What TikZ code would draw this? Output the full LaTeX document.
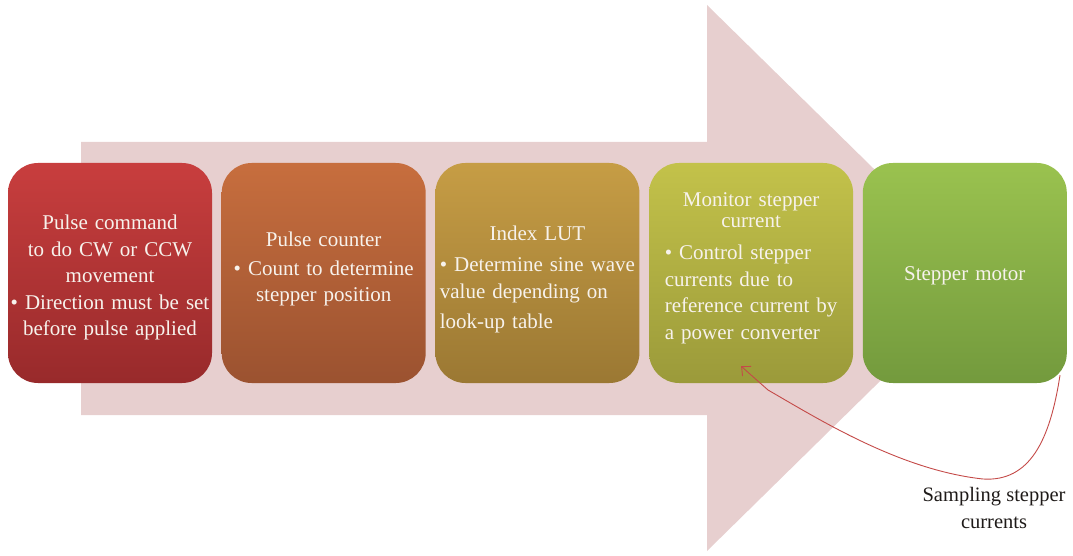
\documentclass[tikz,border=0pt]{standalone}
\usepackage{fontspec}
\setmainfont{Liberation Serif}
\usepackage{xcolor}
\usetikzlibrary{arrows.meta,positioning,calc}
\definecolor{Band}{HTML}{E7CFCF}
\definecolor{Chalk}{HTML}{F7F2EC}
\definecolor{Ink}{HTML}{1E1A18}
\definecolor{Loop}{HTML}{C44A48}
\definecolor{RedTop}{HTML}{C83E3E}
\definecolor{RedBot}{HTML}{982A2B}
\definecolor{RustTop}{HTML}{C76E3E}
\definecolor{RustBot}{HTML}{9B5230}
\definecolor{OchreTop}{HTML}{C69D45}
\definecolor{OchreBot}{HTML}{9B7833}
\definecolor{OliveTop}{HTML}{C3C24A}
\definecolor{OliveBot}{HTML}{9B9A3A}
\definecolor{LeafTop}{HTML}{9AC24F}
\definecolor{LeafBot}{HTML}{739A3D}
% struts to nudge a node's text down (sink) or up (lift)
\newcommand{\sink}[1]{\rule{0pt}{#1}}
\newcommand{\lift}[1]{\rule[-#1]{0pt}{#1}}
\tikzset{
  stage/.style={rounded corners=30pt,minimum width=204pt,minimum height=220pt,align=center,text width=202pt,inner sep=1pt,font=\fontsize{21}{26.5}\selectfont,text=Chalk},
  note/.style={align=center,font=\fontsize{20.5}{27}\selectfont,text=Ink},
  feedback/.style={-{Straight Barb[length=7pt,width=13pt]},draw=Loop,line width=0.9pt}
}
\begin{document}
\begin{tikzpicture}[x=1pt,y=-1pt,node distance=9.3pt]
  \useasboundingbox (0,0) rectangle (1073,556);
  % big background arrow
  \fill[Band] (81,142) -- (707,142) -- (707,5) -- (985,278) -- (707,551) -- (707,415) -- (81,415) -- cycle;
  % stages
  \node[stage,top color=RedTop,bottom color=RedBot] (pulse) at (110,273)
    {\sink{24pt}Pulse command\\ to do CW or CCW\\ movement\\ \mbox{• Direction must be set}\\ before pulse applied};
  \node[stage,top color=RustTop,bottom color=RustBot,right=of pulse] (counter)
    {Pulse counter\\[2pt] • Count to determine\\ stepper position\lift{12pt}};
  \node[stage,top color=OchreTop,bottom color=OchreBot,right=of counter] (lut)
    {\sink{31pt}Index LUT\\[11pt] \begin{tabular}{@{}l@{}}• Determine sine wave\\[1pt] value depending on\\[3pt] look-up table\end{tabular}};
  \node[stage,top color=OliveTop,bottom color=OliveBot,right=of lut] (monitor)
    {Monitor stepper\\[-6pt] current\\[13pt] \begin{tabular}{@{}l@{}}• Control stepper\\ currents due to\\ reference current by\\ a power converter\lift{14pt}\end{tabular}};
  \node[stage,top color=LeafTop,bottom color=LeafBot,right=of monitor] (motor) {\sink{20pt}Stepper motor};
  % feedback loop
  \node[note] (sampling) at (994,508) {Sampling stepper\\ currents};
  \draw[feedback] ($(motor.south east)+(-7,-8)$) .. controls (1050,440) and (1030,482) .. (983,479)
    .. controls (900,470) and (820,420) .. (768,390) -- ($(monitor.south)+(-10,-17)$);
\end{tikzpicture}
\end{document}
